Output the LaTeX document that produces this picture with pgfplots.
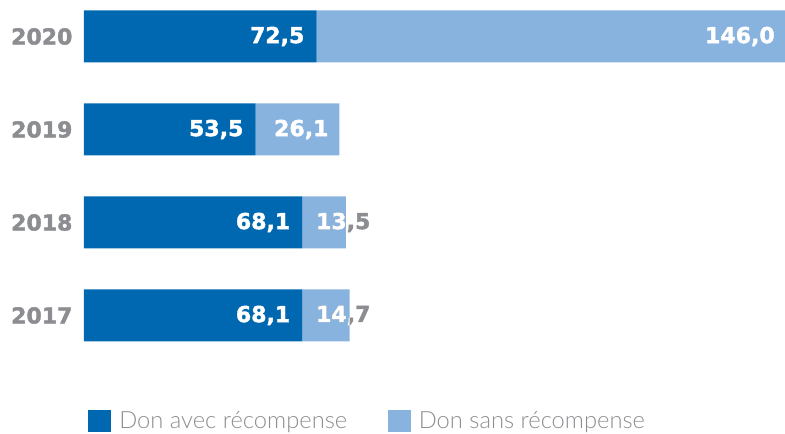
\documentclass[border=0pt]{standalone}
\usepackage{pgfplots}
\pgfplotsset{compat=1.18}
\usepackage{fontspec}
\setmainfont{Lato}
\newfontfamily\heavyfont{DejaVu Sans}[BoldFeatures={FakeBold=1.8}]
\newfontfamily\lightfont{Lato}[UprightFont=* Light]

\definecolor{dark}{HTML}{0068B0}
\definecolor{light}{HTML}{88B3DF}
\definecolor{lab}{HTML}{8B8D90}

\tikzset{
  val/.style={font=\heavyfont\bfseries\fontsize{16.5}{18}\selectfont, inner sep=0pt},
}

\begin{document}
\begin{tikzpicture}
\begin{axis}[
    xbar stacked,
    x=2.406pt, y=69.75pt,
    bar width=39pt,
    xmin=0, xmax=218.5,
    ymin=-0.5, ymax=3.5,
    clip=false,
    axis line style={draw=none},
    tick style={draw=none},
    xtick=\empty,
    ytick={0,1,2,3},
    yticklabels={2017,2018,2019,2020},
    yticklabel style={font=\heavyfont\bfseries\fontsize{16.5}{18}\selectfont, text=lab, inner sep=0pt, xshift=-8.5pt},
    legend style={at={(axis cs:0,-1.134)}, anchor=west, draw=none, fill=none,
        legend columns=2, font=\lightfont\fontsize{17.8}{19}\selectfont, text=lab,
        /tikz/every odd column/.append style={column sep=4pt},
        /tikz/every even column/.append style={column sep=28.5pt}},
    legend image code/.code={\fill[#1] (0pt,-8.25pt) rectangle (17.25pt,8.25pt);},
]
\addplot[fill=dark, draw=none] coordinates {(68.1,0) (68.1,1) (53.5,2) (72.5,3)};
\addplot[fill=light, draw=none] coordinates {(14.7,0) (13.5,1) (26.1,2) (146.0,3)};
\legend{Don avec récompense, Don sans récompense}

\coordinate (O) at (axis cs:0,0);
\coordinate (d20) at (axis cs:72.5,3);
\coordinate (d19) at (axis cs:53.5,2);
\coordinate (d18) at (axis cs:68.1,1);
\coordinate (d17) at (axis cs:68.1,0);
\coordinate (t20) at (axis cs:218.5,3);
\coordinate (t19) at (axis cs:79.6,2);
\coordinate (c18a) at (axis cs:68.1,0.72);
\coordinate (c18b) at (axis cs:81.6,1.28);
\coordinate (c17a) at (axis cs:68.1,-0.28);
\coordinate (c17b) at (axis cs:82.8,0.28);
\end{axis}

% value labels
\node[val, text=white, anchor=east, xshift=-9pt] at (d20) {72,5};
\node[val, text=white, anchor=east, xshift=-9pt] at (d19) {53,5};
\node[val, text=white, anchor=east, xshift=-9pt] at (d18) {68,1};
\node[val, text=white, anchor=east, xshift=-9pt] at (d17) {68,1};
\node[val, text=white, anchor=east, xshift=-7.5pt] at (t20) {146,0};
\node[val, text=white, anchor=east, xshift=-8pt] at (t19) {26,1};
% labels that run out of their bar: grey outside, white inside
\node[val, text=lab, anchor=west, xshift=10pt] at (d18) {13,5};
\node[val, text=lab, anchor=west, xshift=10pt] at (d17) {14,7};
\begin{scope}
  \clip (c18a) rectangle (c18b);
  \node[val, text=white, anchor=west, xshift=10pt] at (d18) {13,5};
\end{scope}
\begin{scope}
  \clip (c17a) rectangle (c17b);
  \node[val, text=white, anchor=west, xshift=10pt] at (d17) {14,7};
\end{scope}

\pgfresetboundingbox
\path[use as bounding box] (O) ++(-63pt,-88.875pt) rectangle ++(588.75pt,325.5pt);
\end{tikzpicture}
\end{document}
